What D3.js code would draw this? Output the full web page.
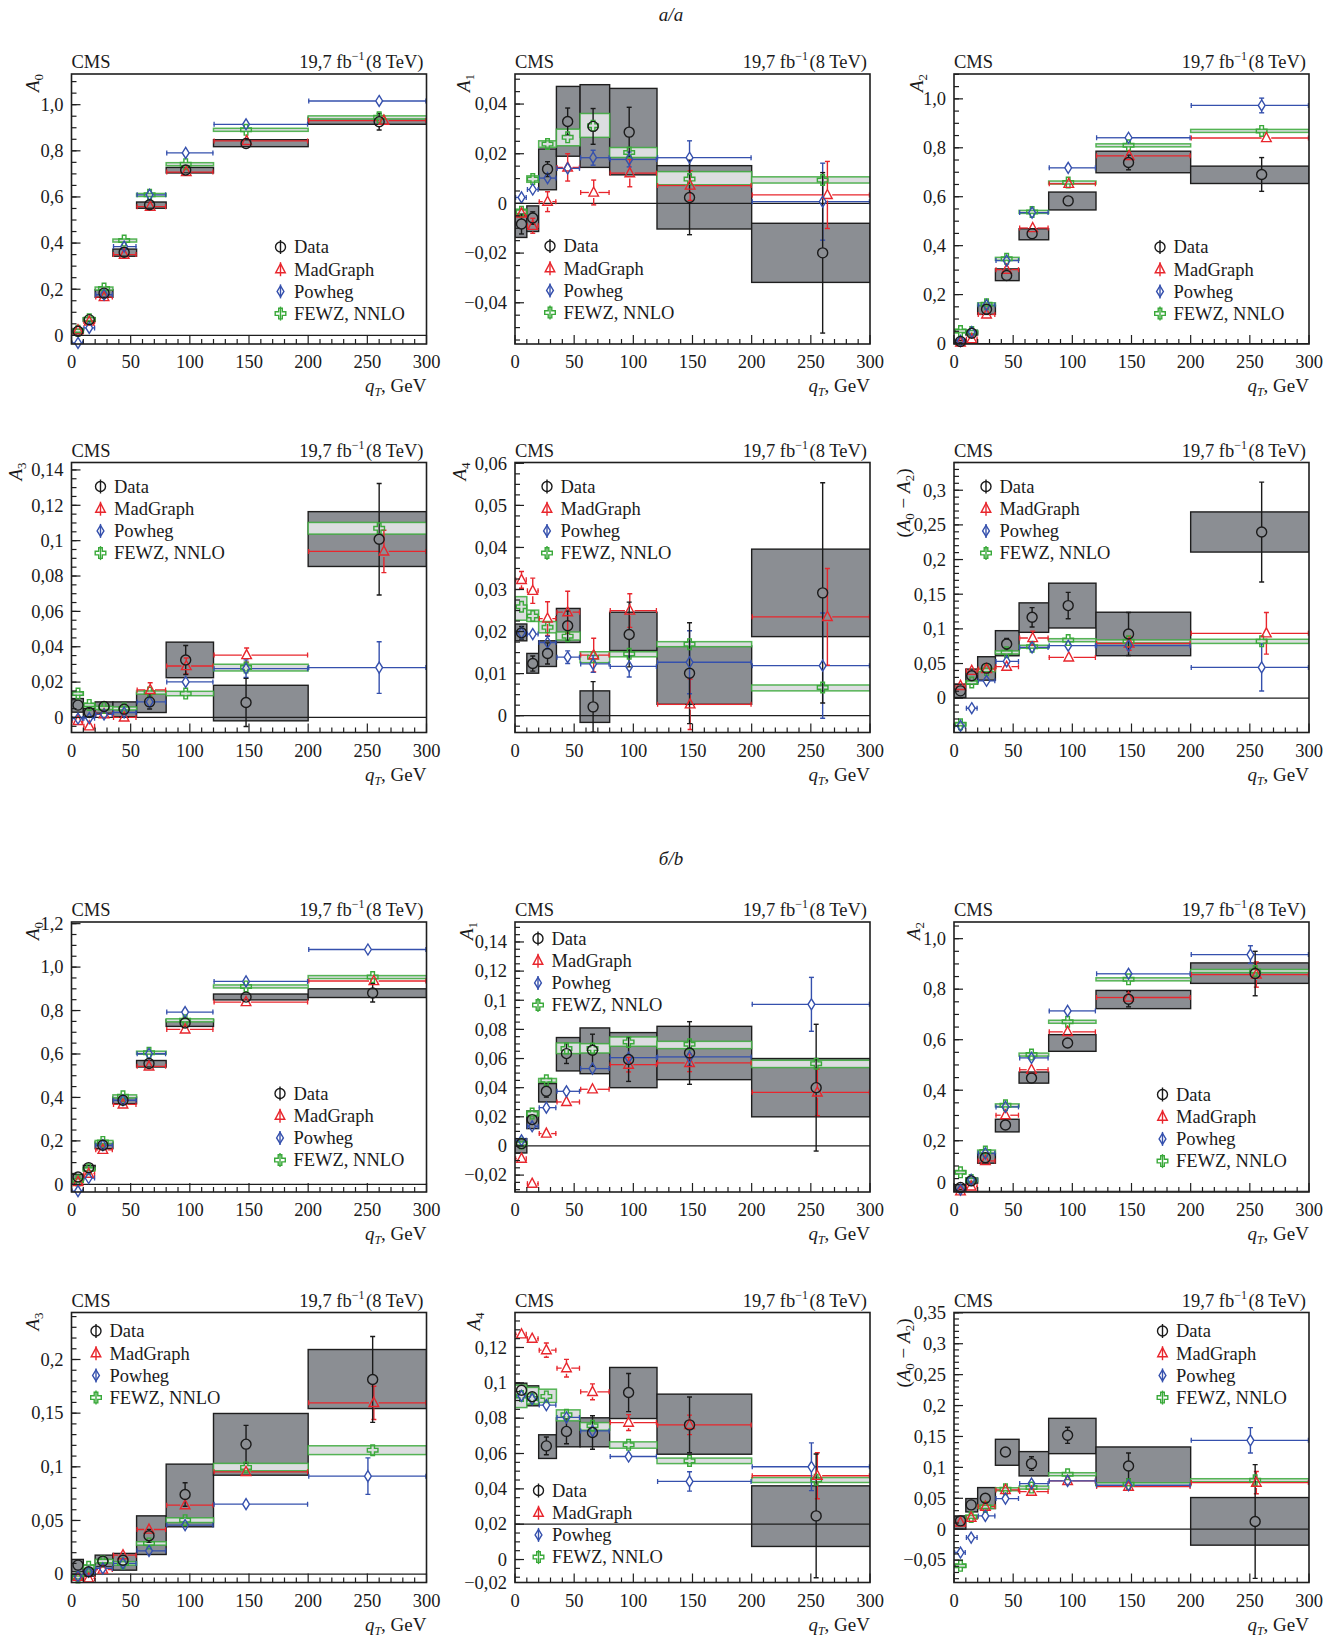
<!DOCTYPE html>
<html>
<head>
<meta charset="utf-8">
<script src="https://cdn.jsdelivr.net/npm/d3@7"></script>
<style>
  body { margin: 0; background: #fff; }
  svg text { font-family: "Liberation Serif", "Times New Roman", serif; fill: #1a1a1a; }
</style>
</head>
<body>
<svg id="chart" width="1341" height="1637"></svg>
<script>
// qT bins (GeV) and x positions of the markers
const binEdges = [0, 10, 20, 35, 55, 80, 120, 200, 300];
const xTicks = [0, 50, 100, 150, 200, 250, 300];
const xDataA = [5.5, 15, 27.5, 44.5, 66, 96.5, 147.5, 260];
const xMgA   = [5.5, 15, 27.5, 44.5, 66.5, 97, 148, 264];
const xPhA   = [5.5, 15, 27.5, 44.5, 66, 96.5, 147.5, 260];
const xDataB = [5.5, 14.5, 26.5, 43.5, 65.5, 96, 147.5, 254.5];
const xMgB   = [5.5, 14.5, 26.5, 43.5, 65.5, 96, 147.5, 255.5];
const xPhB   = [5.5, 14.5, 26.5, 43.5, 65.5, 96, 147.5, 250.5];

const legendNames = ["Data", "MadGraph", "Powheg", "FEWZ, NNLO"];

// data rows: [value, stat, sysLo, sysHi]; mg/ph rows: [value, err]; fewz rows: [value, lo, hi]
// --- a/a, |y| < 1 ---
const aA0Data = [[0.018,0.004,0.010,0.026],[0.068,0.004,0.060,0.076],[0.183,0.005,0.165,0.198],[0.360,0.006,0.343,0.374],[0.566,0.007,0.551,0.578],[0.717,0.009,0.704,0.728],[0.832,0.013,0.818,0.848],[0.926,0.036,0.915,0.946]];
const aA0Mg   = [[0.022,0.006],[0.060,0.006],[0.166,0.008],[0.350,0.008],[0.558,0.008],[0.708,0.008],[0.843,0.010],[0.931,0.012]];
const aA0Ph   = [[-0.033,0.004],[0.032,0.004],[0.176,0.005],[0.385,0.006],[0.609,0.006],[0.791,0.006],[0.915,0.007],[1.016,0.008]];
const aA0Fewz = [[0.020,0.016,0.024],[0.070,0.066,0.074],[0.203,0.199,0.207],[0.411,0.407,0.415],[0.609,0.604,0.613],[0.742,0.738,0.746],[0.891,0.888,0.894],[0.945,0.941,0.949]];

const aA1Data = [[-0.0083,0.004,-0.0137,-0.005],[-0.0059,0.0025,-0.0113,-0.001],[0.0138,0.003,0.0055,0.0219],[0.0330,0.0054,0.0190,0.0471],[0.0310,0.0072,0.0145,0.0478],[0.0287,0.0100,0.0115,0.0463],[0.0024,0.0150,-0.0103,0.0152],[-0.0199,0.0323,-0.0318,-0.0080]];
const aA1Mg   = [[-0.0040,0.002],[-0.0090,0.003],[0.0007,0.004],[0.0145,0.0055],[0.0044,0.005],[0.0122,0.0055],[0.0072,0.006],[0.0034,0.0135]];
const aA1Ph   = [[0.0024,0.0015],[0.0056,0.0015],[0.0102,0.002],[0.0141,0.002],[0.0184,0.003],[0.0177,0.003],[0.0184,0.0068],[0.0007,0.0155]];
const aA1Fewz = [[-0.0034,-0.0045,-0.0023],[0.0098,0.0085,0.0111],[0.0239,0.0226,0.0252],[0.0266,0.0232,0.0299],[0.0313,0.0266,0.0362],[0.0205,0.0185,0.0225],[0.0098,0.0075,0.0128],[0.0094,0.0082,0.0107]];

const aA2Data = [[0.008,0.004,0.003,0.013],[0.042,0.004,0.035,0.050],[0.140,0.006,0.119,0.156],[0.278,0.008,0.257,0.305],[0.449,0.010,0.424,0.469],[0.583,0.012,0.546,0.619],[0.740,0.030,0.698,0.786],[0.691,0.069,0.654,0.725]];
const aA2Mg   = [[0.004,0.005],[0.018,0.005],[0.119,0.006],[0.302,0.007],[0.472,0.008],[0.653,0.009],[0.767,0.012],[0.840,0.014]];
const aA2Ph   = [[0.011,0.004],[0.047,0.004],[0.157,0.005],[0.339,0.006],[0.535,0.007],[0.718,0.008],[0.841,0.010],[0.973,0.030]];
const aA2Fewz = [[0.051,0.047,0.055],[0.047,0.043,0.051],[0.160,0.156,0.164],[0.346,0.342,0.350],[0.538,0.534,0.542],[0.658,0.654,0.662],[0.810,0.806,0.814],[0.869,0.865,0.873]];

const aA3Data = [[0.0070,0.0025,0.0030,0.0107],[0.0028,0.0025,0.0004,0.0050],[0.0062,0.0025,0.0024,0.0088],[0.0047,0.0030,0.0004,0.0088],[0.0088,0.0040,0.0028,0.0141],[0.0325,0.0082,0.0225,0.0426],[0.0085,0.0136,-0.0019,0.0182],[0.1008,0.0315,0.0854,0.1164]];
const aA3Mg   = [[-0.0019,0.002],[-0.0050,0.003],[0.0019,0.003],[0.0000,0.003],[0.0156,0.004],[0.0291,0.0045],[0.0353,0.004],[0.0939,0.012]];
const aA3Ph   = [[-0.0006,0.0015],[-0.0004,0.0015],[0.0017,0.0015],[0.0028,0.002],[0.0088,0.0025],[0.0201,0.003],[0.0276,0.005],[0.0282,0.0146]];
const aA3Fewz = [[0.0135,0.0125,0.0145],[0.0071,0.0063,0.0079],[0.0054,0.0046,0.0062],[0.0051,0.0043,0.0059],[0.0141,0.0132,0.0150],[0.0135,0.0123,0.0148],[0.0282,0.0263,0.0301],[0.1070,0.1037,0.1103]];

const aA4Data = [[0.0197,0.0015,0.0178,0.0218],[0.0124,0.0018,0.0101,0.0148],[0.0148,0.0025,0.0117,0.0178],[0.0214,0.0035,0.0174,0.0255],[0.0021,0.0060,-0.0016,0.0059],[0.0193,0.0077,0.0155,0.0246],[0.0101,0.0120,0.0027,0.0166],[0.0292,0.0262,0.0188,0.0396]];
const aA4Mg   = [[0.0323,0.002],[0.0297,0.003],[0.0231,0.004],[0.0246,0.005],[0.0144,0.004],[0.0250,0.004],[0.0027,0.006],[0.0235,0.0115]];
const aA4Ph   = [[0.0197,0.0012],[0.0194,0.0012],[0.0174,0.0015],[0.0139,0.0015],[0.0123,0.002],[0.0117,0.0025],[0.0127,0.0075],[0.0119,0.0125]];
const aA4Fewz = [[0.0259,0.0227,0.0283],[0.0237,0.0224,0.0251],[0.0210,0.0197,0.0224],[0.0189,0.0180,0.0199],[0.0139,0.0126,0.0152],[0.0147,0.0140,0.0152],[0.0170,0.0164,0.0176],[0.0067,0.0059,0.0073]];

const aDiffData = [[0.0106,0.004,0.0010,0.0203],[0.0323,0.005,0.0203,0.0420],[0.0434,0.006,0.0260,0.0598],[0.0781,0.008,0.0612,0.0974],[0.1167,0.014,0.0950,0.1375],[0.1336,0.019,0.1013,0.1659],[0.0926,0.031,0.0613,0.1240],[0.2397,0.072,0.2108,0.2687]];
const aDiffMg   = [[0.0178,0.004],[0.0396,0.005],[0.0420,0.006],[0.0454,0.007],[0.0868,0.010],[0.0588,0.008],[0.0791,0.010],[0.0936,0.030]];
const aDiffPh   = [[-0.0400,0.002],[-0.0145,0.002],[0.0251,0.003],[0.0531,0.004],[0.0733,0.005],[0.0757,0.006],[0.0757,0.0075],[0.0444,0.034]];
const aDiffFewz = [[-0.0376,-0.0395,-0.0357],[0.0227,0.0210,0.0244],[0.0405,0.0390,0.0420],[0.0661,0.0640,0.0680],[0.0743,0.0722,0.0762],[0.0839,0.0815,0.0858],[0.0820,0.0800,0.0838],[0.0820,0.0790,0.0850]];

// --- б/b, 1 < |y| < 2.1 ---
const bA0Data = [[0.034,0.005,0.021,0.046],[0.077,0.005,0.068,0.087],[0.180,0.006,0.164,0.195],[0.387,0.007,0.371,0.402],[0.556,0.008,0.540,0.570],[0.743,0.010,0.727,0.758],[0.862,0.018,0.849,0.876],[0.881,0.042,0.860,0.900]];
const bA0Mg   = [[0.011,0.005],[0.049,0.006],[0.159,0.007],[0.368,0.008],[0.543,0.009],[0.713,0.010],[0.839,0.012],[0.936,0.015]];
const bA0Ph   = [[-0.031,0.005],[0.029,0.005],[0.180,0.006],[0.387,0.007],[0.601,0.008],[0.793,0.009],[0.934,0.010],[1.081,0.012]];
const bA0Fewz = [[0.018,0.014,0.022],[0.069,0.065,0.073],[0.195,0.191,0.199],[0.405,0.401,0.409],[0.606,0.602,0.610],[0.755,0.751,0.759],[0.911,0.907,0.915],[0.954,0.950,0.958]];

const bA1Data = [[0.0016,0.003,-0.0048,0.0050],[0.0181,0.003,0.0119,0.0240],[0.0375,0.004,0.0302,0.0428],[0.0634,0.0068,0.0515,0.0744],[0.0657,0.011,0.0496,0.0810],[0.0593,0.015,0.0400,0.0778],[0.0638,0.0215,0.0455,0.0821],[0.0400,0.0435,0.0200,0.0600]];
const bA1Mg   = [[-0.0087,0.002],[-0.0259,0.002],[0.0085,0.003],[0.0302,0.004],[0.0389,0.004],[0.0558,0.005],[0.0570,0.006],[0.0368,0.016]];
const bA1Ph   = [[0.0039,0.002],[0.0135,0.002],[0.0263,0.003],[0.0375,0.003],[0.0531,0.003],[0.0606,0.004],[0.0611,0.006],[0.0972,0.0185]];
const bA1Fewz = [[0.0016,0.0005,0.0027],[0.0222,0.0205,0.0239],[0.0451,0.0437,0.0463],[0.0668,0.0634,0.0707],[0.0668,0.0638,0.0702],[0.0714,0.0684,0.0748],[0.0698,0.0668,0.0718],[0.0565,0.0538,0.0588]];

const bA2Data = [[0.015,0.004,0.006,0.026],[0.041,0.005,0.032,0.052],[0.133,0.006,0.111,0.150],[0.262,0.008,0.235,0.285],[0.448,0.010,0.428,0.472],[0.587,0.013,0.554,0.620],[0.760,0.030,0.723,0.795],[0.862,0.088,0.823,0.904]];
const bA2Mg   = [[0.000,0.006],[0.019,0.006],[0.120,0.007],[0.301,0.008],[0.481,0.009],[0.631,0.010],[0.767,0.012],[0.858,0.050]];
const bA2Ph   = [[0.006,0.004],[0.045,0.005],[0.150,0.006],[0.334,0.007],[0.528,0.008],[0.714,0.010],[0.861,0.012],[0.937,0.035]];
const bA2Fewz = [[0.075,0.071,0.079],[0.045,0.041,0.049],[0.157,0.153,0.161],[0.340,0.336,0.344],[0.541,0.537,0.545],[0.671,0.667,0.675],[0.839,0.835,0.843],[0.872,0.868,0.876]];

const bA3Data = [[0.0084,0.0035,0.0022,0.0137],[0.0022,0.003,-0.0019,0.0053],[0.0121,0.0035,0.0068,0.0177],[0.0130,0.004,0.0037,0.0193],[0.0357,0.006,0.0183,0.0543],[0.0742,0.011,0.0441,0.1025],[0.1211,0.0175,0.0922,0.1497],[0.1814,0.040,0.1543,0.2093]];
const bA3Mg   = [[-0.0025,0.003],[-0.0040,0.003],[0.0043,0.003],[0.0177,0.004],[0.0416,0.004],[0.0643,0.005],[0.0953,0.005],[0.1596,0.0155]];
const bA3Ph   = [[-0.0019,0.002],[0.0022,0.002],[0.0053,0.002],[0.0100,0.003],[0.0217,0.003],[0.0457,0.004],[0.0652,0.0055],[0.0913,0.017]];
const bA3Fewz = [[-0.0031,-0.0045,-0.0017],[0.0068,0.0052,0.0084],[0.0121,0.0105,0.0137],[0.0100,0.0084,0.0116],[0.0286,0.0270,0.0302],[0.0503,0.0481,0.0525],[0.0994,0.0963,0.1032],[0.1155,0.1114,0.1196]];

const bA4Data = [[0.0958,0.003,0.0911,0.0998],[0.0921,0.003,0.0870,0.0983],[0.0643,0.005,0.0572,0.0706],[0.0725,0.007,0.0638,0.0802],[0.0719,0.0095,0.0638,0.0802],[0.0945,0.0108,0.0798,0.1087],[0.0762,0.0158,0.0596,0.0936],[0.0247,0.0350,0.0074,0.0417]];
const bA4Mg   = [[0.1275,0.002],[0.1250,0.003],[0.1185,0.004],[0.1083,0.005],[0.0949,0.0045],[0.0775,0.0045],[0.0762,0.0055],[0.0474,0.013]];
const bA4Ph   = [[0.0926,0.002],[0.0908,0.002],[0.0874,0.002],[0.0804,0.003],[0.0728,0.003],[0.0583,0.003],[0.0442,0.0055],[0.0525,0.0135]];
const bA4Fewz = [[0.0926,0.0860,0.0987],[0.0911,0.0880,0.0974],[0.0923,0.0889,0.0964],[0.0819,0.0785,0.0847],[0.0757,0.0732,0.0775],[0.0649,0.0630,0.0666],[0.0558,0.0543,0.0574],[0.0451,0.0436,0.0464]];

const bDiffData = [[0.0135,0.004,0.0000,0.0215],[0.0393,0.005,0.0280,0.0495],[0.0500,0.007,0.0334,0.0673],[0.1249,0.0075,0.1034,0.1454],[0.1061,0.011,0.0862,0.1255],[0.1519,0.013,0.1222,0.1793],[0.1023,0.021,0.0711,0.1330],[0.0124,0.092,-0.0258,0.0512]];
const bDiffMg   = [[0.0108,0.003],[0.0188,0.004],[0.0366,0.005],[0.0635,0.007],[0.0608,0.006],[0.0781,0.006],[0.0689,0.008],[0.0754,0.018]];
const bDiffPh   = [[-0.0377,0.003],[-0.0135,0.003],[0.0215,0.004],[0.0495,0.005],[0.0738,0.005],[0.0781,0.006],[0.0711,0.008],[0.1438,0.0205]];
const bDiffFewz = [[-0.0592,-0.0610,-0.0574],[0.0199,0.0180,0.0218],[0.0361,0.0342,0.0380],[0.0646,0.0626,0.0666],[0.0673,0.0650,0.0696],[0.0889,0.0870,0.0908],[0.0727,0.0707,0.0747],[0.0792,0.0770,0.0814]];

// layout
const W = 355, H = 270;
const colX = [71.5, 515, 954];
const rowY = [74, 462.5, 922, 1312.5];

const colors = { data: "#1a1a1a", mg: "#e8262d", ph: "#3550ad", fewz: "#3aa93a", box: "#8b8e93", band: "#dcdde0" };

const panels = [
  { id: 0, col: 0, row: 0, half: "a", title: "0", data: aA0Data, mg: aA0Mg, ph: aA0Ph, fewz: aA0Fewz,
    domain: [-0.0375, 1.133], major: 0.2, minor: 0.05, fixed: 1, legend: [209, 173], yOff: 33 },
  { id: 1, col: 1, row: 0, half: "a", title: "1", data: aA1Data, mg: aA1Mg, ph: aA1Ph, fewz: aA1Fewz,
    domain: [-0.0566, 0.0521], major: 0.02, minor: 0.005, legend: [35, 172], yOff: 45 },
  { id: 2, col: 2, row: 0, half: "a", title: "2", data: aA2Data, mg: aA2Mg, ph: aA2Ph, fewz: aA2Fewz,
    domain: [-0.002, 1.1016], major: 0.2, minor: 0.05, fixed: 1, legend: [206, 173], yOff: 31 },
  { id: 3, col: 0, row: 1, half: "a", title: "3", data: aA3Data, mg: aA3Mg, ph: aA3Ph, fewz: aA3Fewz,
    domain: [-0.0085, 0.1442], major: 0.02, minor: 0.005, legend: [29, 24], yOff: 50 },
  { id: 4, col: 1, row: 1, half: "a", title: "4", data: aA4Data, mg: aA4Mg, ph: aA4Ph, fewz: aA4Fewz,
    domain: [-0.004, 0.0602], major: 0.01, minor: 0.0025, legend: [32, 24], yOff: 49 },
  { id: 5, col: 2, row: 1, half: "a", title: "diff", data: aDiffData, mg: aDiffMg, ph: aDiffPh, fewz: aDiffFewz,
    domain: [-0.0495, 0.340], major: 0.05, minor: 0.01, legend: [32, 24], yOff: 44 },
  { id: 6, col: 0, row: 2, half: "b", title: "0", data: bA0Data, mg: bA0Mg, ph: bA0Ph, fewz: bA0Fewz,
    domain: [-0.0353, 1.2076], major: 0.2, minor: 0.05, fixed: 1, legend: [208.5, 171.5], yOff: 33 },
  { id: 7, col: 1, row: 2, half: "b", title: "1", data: bA1Data, mg: bA1Mg, ph: bA1Ph, fewz: bA1Fewz,
    domain: [-0.0316, 0.1537], major: 0.02, minor: 0.005, legend: [23, 16.5], yOff: 42 },
  { id: 8, col: 2, row: 2, half: "b", title: "2", data: bA2Data, mg: bA2Mg, ph: bA2Ph, fewz: bA2Fewz,
    domain: [-0.003, 1.066], major: 0.2, minor: 0.05, fixed: 1, legend: [208.5, 172.5], yOff: 34, zeroShift: -9 },
  { id: 9, col: 0, row: 3, half: "b", title: "3", data: bA3Data, mg: bA3Mg, ph: bA3Ph, fewz: bA3Fewz,
    domain: [-0.0078, 0.2438], major: 0.05, minor: 0.01, legend: [24.5, 18.5], yOff: 33 },
  { id: 10, col: 1, row: 3, half: "b", title: "4", data: bA4Data, mg: bA4Mg, ph: bA4Ph, fewz: bA4Fewz,
    domain: [-0.013, 0.1398], major: 0.02, minor: 0.005, legend: [23.5, 178], yOff: 35,
    ref: 0.02, extraLabel: [-0.013, "−0,02"] },
  { id: 11, col: 2, row: 3, half: "b", title: "diff", data: bDiffData, mg: bDiffMg, ph: bDiffPh, fewz: bDiffFewz,
    domain: [-0.0862, 0.3505], major: 0.05, minor: 0.01, legend: [208.5, 18.5], yOff: 44 }
];

const svg = d3.select("#chart");

// section headers
svg.append("text").attr("x", 671).attr("y", 21).attr("text-anchor", "middle")
  .attr("font-size", 19).attr("font-style", "italic").text("а/a");
svg.append("text").attr("x", 671).attr("y", 865).attr("text-anchor", "middle")
  .attr("font-size", 19).attr("font-style", "italic").text("б/b");

function shape(type) {
  if (type === "tri") return "M0,-5.5L4.8,3.6L-4.8,3.6Z";
  if (type === "dia") return "M0,-5.5L3.4,0L0,5.5L-3.4,0Z";
  if (type === "cross") return "M-1.8,-5.3H1.8V-1.8H5.3V1.8H1.8V5.3H-1.8V1.8H-5.3V-1.8H-1.8Z";
  return null;
}
const halfH = { circle: 5, tri: 5.5, dia: 5.5, cross: 5.3 };
const halfW = { circle: 5, tri: 4.8, dia: 3.4, cross: 5.3 };

function fmt(v, fixed) {
  if (Math.abs(v) < 1e-9) return "0";
  const s = fixed ? v.toFixed(fixed) : String(+v.toFixed(4));
  return s.replace(".", ",").replace("-", "−");
}

function ticksIn(domain, step) {
  const out = [];
  const k0 = Math.ceil(domain[0] / step - 1e-6), k1 = Math.floor(domain[1] / step + 1e-6);
  for (let k = k0; k <= k1; k++) out.push(+(k * step).toFixed(6));
  return out;
}

function drawPanel(p) {
  const g = svg.append("g").attr("transform", `translate(${colX[p.col]},${rowY[p.row]})`);
  const x = d3.scaleLinear().domain([0, 300]).range([0, W]);
  const y = d3.scaleLinear().domain(p.domain).range([H, 0]);
  const xData = p.half === "a" ? xDataA : xDataB;
  const xMg = p.half === "a" ? xMgA : xMgB;
  const xPh = p.half === "a" ? xPhA : xPhB;

  const clipId = "clip" + p.id;
  g.append("clipPath").attr("id", clipId).append("rect").attr("width", W).attr("height", H);
  const body = g.append("g").attr("clip-path", `url(#${clipId})`);

  const bx0 = (d, i) => x(binEdges[i]);
  const bw = (d, i) => x(binEdges[i + 1]) - x(binEdges[i]);

  // systematic boxes of the measurement
  body.selectAll("rect.sys").data(p.data).join("rect")
    .attr("class", "sys")
    .attr("x", bx0).attr("width", bw)
    .attr("y", d => y(d[3]))
    .attr("height", d => Math.max(2, y(d[2]) - y(d[3])))
    .attr("fill", colors.box).attr("stroke", "#1e1e1e").attr("stroke-width", 1.4);

  // FEWZ bands
  body.selectAll("rect.fewz").data(p.fewz).join("rect")
    .attr("class", "fewz")
    .attr("x", bx0).attr("width", bw)
    .attr("y", d => {
      const h = Math.max(3, y(d[1]) - y(d[2]));
      return (y(d[1]) + y(d[2])) / 2 - h / 2;
    })
    .attr("height", d => Math.max(3, y(d[1]) - y(d[2])))
    .attr("fill", colors.band).attr("stroke", colors.fewz).attr("stroke-width", 1.5).attr("stroke-opacity", 0.85);

  // reference line
  const ref = p.ref !== undefined ? p.ref : 0;
  body.append("line").attr("x1", 0).attr("x2", W).attr("y1", y(ref)).attr("y2", y(ref))
    .attr("stroke", "#1e1e1e").attr("stroke-width", 1.2);

  // horizontal bin lines for MadGraph and Powheg
  function binLines(rows, xm, color, hw) {
    const segs = [];
    rows.forEach((d, i) => {
      const yy = y(d[0]), x0 = x(binEdges[i]), x1 = x(binEdges[i + 1]), xc = x(xm[i]);
      segs.push([x0, yy, xc - hw, yy], [xc + hw, yy, x1, yy]);
      segs.push([x0 + 0.6, yy - 2.5, x0 + 0.6, yy + 2.5], [x1 - 0.6, yy - 2.5, x1 - 0.6, yy + 2.5]);
    });
    body.append("g").selectAll("line").data(segs).join("line")
      .attr("x1", s => s[0]).attr("y1", s => s[1]).attr("x2", s => s[2]).attr("y2", s => s[3])
      .attr("stroke", color).attr("stroke-width", 1.3);
  }
  binLines(p.mg, xMg, colors.mg, halfW.tri);
  binLines(p.ph, xPh, colors.ph, halfW.dia);

  // vertical error bars
  function errBars(rows, xm, color, hh) {
    const segs = [];
    rows.forEach((d, i) => {
      const xc = x(xm[i]), yc = y(d[0]), yt = y(d[0] + d[1]), yb = y(d[0] - d[1]);
      if (yc - hh - yt > 0.5) segs.push([xc, yt, xc, yc - hh], [xc - 2.5, yt, xc + 2.5, yt]);
      if (yb - (yc + hh) > 0.5) segs.push([xc, yc + hh, xc, yb], [xc - 2.5, yb, xc + 2.5, yb]);
    });
    body.append("g").selectAll("line").data(segs).join("line")
      .attr("x1", s => s[0]).attr("y1", s => s[1]).attr("x2", s => s[2]).attr("y2", s => s[3])
      .attr("stroke", color).attr("stroke-width", 1.4);
  }
  errBars(p.mg, xMg, colors.mg, halfH.tri);
  errBars(p.ph, xPh, colors.ph, halfH.dia);
  errBars(p.data, xData, colors.data, halfH.circle);

  // markers
  const mk = g.append("g").attr("fill", "none").attr("stroke-width", 1.4);
  mk.selectAll("path.fewz").data(p.fewz).join("path")
    .attr("transform", (d, i) => `translate(${x(xData[i])},${y(d[0])})`)
    .attr("d", shape("cross")).attr("stroke", colors.fewz);
  mk.selectAll("path.mg").data(p.mg).join("path")
    .attr("transform", (d, i) => `translate(${x(xMg[i])},${y(d[0])})`)
    .attr("d", shape("tri")).attr("stroke", colors.mg);
  mk.selectAll("path.ph").data(p.ph).join("path")
    .attr("transform", (d, i) => `translate(${x(xPh[i])},${y(d[0])})`)
    .attr("d", shape("dia")).attr("stroke", colors.ph);
  mk.selectAll("circle").data(p.data).join("circle")
    .attr("cx", (d, i) => x(xData[i])).attr("cy", d => y(d[0])).attr("r", 5)
    .attr("stroke", colors.data);

  // frame
  g.append("rect").attr("width", W).attr("height", H)
    .attr("fill", "none").attr("stroke", "#1e1e1e").attr("stroke-width", 1.6);

  // x axis ticks
  const axes = g.append("g").attr("stroke", "#1e1e1e").attr("stroke-width", 1.2);
  const xMinor = d3.range(0, 301, 10);
  axes.selectAll("line.xt").data(xMinor).join("line")
    .attr("x1", d => x(d)).attr("x2", d => x(d))
    .attr("y1", H).attr("y2", d => H - (d % 50 === 0 ? 9 : 5));
  g.append("g").selectAll("text").data(xTicks).join("text")
    .attr("x", d => x(d)).attr("y", H + 24).attr("text-anchor", "middle")
    .attr("font-size", 18.5).text(d => d);

  // y axis ticks
  const majors = ticksIn(p.domain, p.major);
  const minors = ticksIn(p.domain, p.minor);
  axes.selectAll("line.ym").data(minors).join("line")
    .attr("x1", 0).attr("x2", 5).attr("y1", d => y(d)).attr("y2", d => y(d));
  axes.selectAll("line.yM").data(majors).join("line")
    .attr("x1", 0).attr("x2", 9).attr("y1", d => y(d)).attr("y2", d => y(d));
  const labels = majors.map(v => [v, fmt(v, p.fixed)]);
  if (p.extraLabel) labels.push(p.extraLabel);
  g.append("g").selectAll("text").data(labels).join("text")
    .attr("x", -8)
    .attr("y", d => y(d[0]) + 6.3 + (Math.abs(d[0]) < 1e-9 && p.zeroShift ? p.zeroShift : 0))
    .attr("text-anchor", "end").attr("font-size", 18.5).text(d => d[1]);

  // header
  g.append("text").attr("x", 0).attr("y", -6).attr("font-size", 18.5).text("CMS");
  const lumi = g.append("text").attr("x", W - 3).attr("y", -6).attr("text-anchor", "end").attr("font-size", 18.5);
  lumi.append("tspan").text("19,7 fb");
  lumi.append("tspan").attr("font-size", 12).attr("dy", -8).text("−1");
  lumi.append("tspan").attr("dy", 8).attr("dx", 1.5).text("(8 TeV)");

  // x title
  const xt = g.append("text").attr("x", W).attr("y", H + 48).attr("text-anchor", "end").attr("font-size", 19);
  xt.append("tspan").attr("font-style", "italic").text("q");
  xt.append("tspan").attr("font-style", "italic").attr("font-size", 12).attr("dy", 4).text("T");
  xt.append("tspan").attr("dy", -4).text(", GeV");

  // y title
  const yt = g.append("text")
    .attr("transform", `translate(${-p.yOff},${p.title === "diff" ? 6 : 0}) rotate(-90)`)
    .attr("text-anchor", "end").attr("font-size", 19);
  if (p.title === "diff") {
    yt.append("tspan").text("(");
    yt.append("tspan").attr("font-style", "italic").text("A");
    yt.append("tspan").attr("font-size", 13).attr("dy", 4).text("0");
    yt.append("tspan").attr("dy", -4).text(" − ");
    yt.append("tspan").attr("font-style", "italic").text("A");
    yt.append("tspan").attr("font-size", 13).attr("dy", 4).text("2");
    yt.append("tspan").attr("dy", -4).text(")");
  } else {
    yt.append("tspan").attr("font-style", "italic").text("A");
    yt.append("tspan").attr("font-size", 13).attr("dy", 4).text(p.title);
  }

  // legend
  const lg = g.append("g").attr("transform", `translate(${p.legend[0]},${p.legend[1]})`);
  const entries = [
    { name: legendNames[0], color: colors.data, type: "circle" },
    { name: legendNames[1], color: colors.mg, type: "tri" },
    { name: legendNames[2], color: colors.ph, type: "dia" },
    { name: legendNames[3], color: colors.fewz, type: "cross" }
  ];
  const row = lg.selectAll("g").data(entries).join("g")
    .attr("transform", (d, i) => `translate(0,${i * 22.2})`);
  row.append("line").attr("x1", 0).attr("x2", 0).attr("y1", -7).attr("y2", 7)
    .attr("stroke", d => d.color).attr("stroke-width", 1.4);
  row.each(function (d) {
    const s = d3.select(this);
    if (d.type === "circle") {
      s.append("circle").attr("r", 5).attr("fill", "none").attr("stroke", d.color).attr("stroke-width", 1.4);
    } else {
      s.append("path").attr("d", shape(d.type)).attr("fill", "none").attr("stroke", d.color).attr("stroke-width", 1.4);
    }
  });
  row.append("text").attr("x", 13.5).attr("y", 6.3).attr("font-size", 18.5).text(d => d.name);
}

panels.forEach(drawPanel);
</script>
</body>
</html>
